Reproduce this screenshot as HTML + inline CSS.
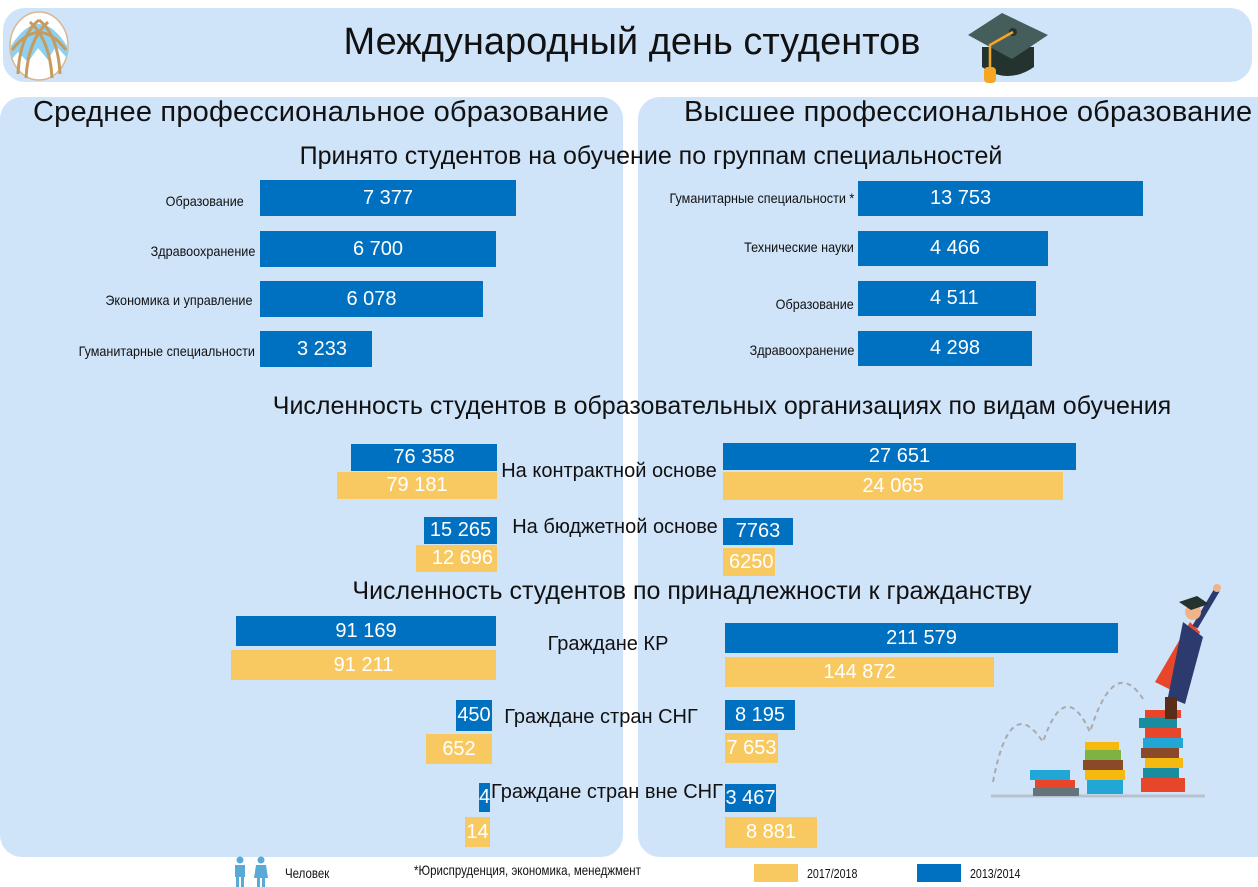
<!DOCTYPE html>
<html><head><meta charset="utf-8"><style>
*{margin:0;padding:0;box-sizing:border-box}
body{width:1258px;height:887px;background:#fff;position:relative;overflow:hidden;font-family:"Liberation Sans","DejaVu Sans",sans-serif;color:#111}
.p{position:absolute;background:#cfe3f9}
.b{position:absolute;background:#0070c0;color:#fff;font-size:20px;text-align:center;display:flex;align-items:center;justify-content:center}
.y{position:absolute;background:#f9c961;color:#fff;font-size:20px;display:flex;align-items:center;justify-content:center}
.t{position:absolute;white-space:nowrap}
.l{position:absolute;font-size:14px;white-space:nowrap;transform:scaleX(.9);transform-origin:right center;text-align:right}
.c{position:absolute;white-space:nowrap;transform:translateX(-50%)}
</style></head><body>
<div class="p" style="left:3px;top:8px;width:1249px;height:74px;border-radius:22px"></div>
<div class="p" style="left:0;top:97px;width:623px;height:760px;border-radius:22px"></div>
<div class="p" style="left:638px;top:97px;width:620px;height:760px;border-radius:22px 0 0 22px"></div>

<svg style="position:absolute;left:8px;top:10px" width="62" height="72" viewBox="0 0 62 72">
<ellipse cx="31" cy="36" rx="29" ry="34" fill="#fff" stroke="#d8b890" stroke-width="1.5"/>
<path d="M3 36 Q31 -8 59 36 L59 48 L48 36 L40 50 L30 38 L20 52 L10 42 L3 50Z" fill="#8fd0ef"/>
<path d="M10 64 Q12 25 31 10 M18 68 Q20 30 40 12 M52 64 Q50 25 31 10 M44 68 Q42 30 22 12 M4 40 Q31 5 58 40" stroke="#c59b5f" stroke-width="3" fill="none"/>
</svg>
<div class="c" style="left:632px;top:21px;font-size:38px">Международный день студентов</div>
<svg style="position:absolute;left:968px;top:7px" width="90" height="78" viewBox="0 0 90 78">
<path d="M14 40 L14 60 Q40 78 66 60 L66 40Z" fill="#25332f"/>
<path d="M0 28 L34 6 L80 28 L44 52Z" fill="#465e5b"/>
<circle cx="45" cy="25" r="4" fill="#25332f"/>
<path d="M45 25 L22 38 L22 66" stroke="#f5a623" stroke-width="2.5" fill="none"/>
<rect x="16" y="60" width="12" height="16" rx="4" fill="#f5a623"/>
</svg>

<div class="t" style="left:33px;top:96px;font-size:29px;letter-spacing:0.2px">Среднее профессиональное образование</div>
<div class="t" style="left:684px;top:96px;font-size:29px;letter-spacing:0.2px">Высшее профессиональное образование</div>
<div class="c" style="left:651px;top:142px;font-size:25px">Принято студентов на обучение по группам специальностей</div>

<div class="l" style="right:1014px;top:193px">Образование</div>
<div class="l" style="right:1003px;top:243px">Здравоохранение</div>
<div class="l" style="right:1006px;top:292px">Экономика и управление</div>
<div class="l" style="right:1003px;top:343px">Гуманитарные специальности</div>
<div class="b" style="left:260px;top:180px;width:256px;height:36px">7 377</div>
<div class="b" style="left:260px;top:231px;width:236px;height:36px">6 700</div>
<div class="b" style="left:260px;top:281px;width:223px;height:36px">6 078</div>
<div class="b" style="left:260px;top:331px;width:112px;height:36px;justify-content:flex-start;padding-left:37px">3 233</div>

<div class="l" style="right:404px;top:190px">Гуманитарные специальности *</div>
<div class="l" style="right:404px;top:239px">Технические науки</div>
<div class="l" style="right:404px;top:296px">Образование</div>
<div class="l" style="right:404px;top:342px">Здравоохранение</div>
<div class="b" style="left:858px;top:181px;width:285px;height:35px;justify-content:flex-start;padding-left:72px">13 753</div>
<div class="b" style="left:858px;top:231px;width:190px;height:35px;justify-content:flex-start;padding-left:72px">4 466</div>
<div class="b" style="left:858px;top:281px;width:178px;height:35px;justify-content:flex-start;padding-left:72px">4 511</div>
<div class="b" style="left:858px;top:331px;width:174px;height:35px;justify-content:flex-start;padding-left:72px">4 298</div>

<div class="c" style="left:722px;top:392px;font-size:25px">Численность студентов в образовательных организациях по видам обучения</div>
<div class="b" style="left:351px;top:444px;width:146px;height:27px">76 358</div>
<div class="y" style="left:337px;top:472px;width:160px;height:27px">79 181</div>
<div class="b" style="left:424px;top:517px;width:73px;height:27px">15 265</div>
<div class="y" style="left:416px;top:545px;width:81px;height:27px;justify-content:flex-end;padding-right:4px">12 696</div>
<div class="c" style="left:609px;top:460px;font-size:20px">На контрактной основе</div>
<div class="c" style="left:615px;top:516px;font-size:20px">На бюджетной основе</div>
<div class="b" style="left:723px;top:443px;width:353px;height:27px">27 651</div>
<div class="y" style="left:723px;top:472px;width:340px;height:28px">24 065</div>
<div class="b" style="left:723px;top:518px;width:70px;height:27px">7763</div>
<div class="y" style="left:723px;top:548px;width:52px;height:28px;justify-content:flex-start;padding-left:6px">6250</div>

<div class="c" style="left:692px;top:577px;font-size:25px">Численность студентов по принадлежности к гражданству</div>
<div class="b" style="left:236px;top:616px;width:260px;height:30px">91 169</div>
<div class="y" style="left:231px;top:650px;width:265px;height:30px">91 211</div>
<div class="b" style="left:456px;top:700px;width:36px;height:31px">450</div>
<div class="y" style="left:426px;top:734px;width:66px;height:30px">652</div>
<div class="b" style="left:479px;top:783px;width:11px;height:29px">4</div>
<div class="y" style="left:465px;top:817px;width:25px;height:30px">14</div>
<div class="c" style="left:608px;top:633px;font-size:20px">Граждане КР</div>
<div class="c" style="left:601px;top:706px;font-size:20px">Граждане стран СНГ</div>
<div class="c" style="left:607px;top:781px;font-size:20px">Граждане стран вне СНГ</div>
<div class="b" style="left:725px;top:623px;width:393px;height:30px">211 579</div>
<div class="y" style="left:725px;top:657px;width:269px;height:30px">144 872</div>
<div class="b" style="left:725px;top:700px;width:70px;height:30px">8 195</div>
<div class="y" style="left:725px;top:733px;width:53px;height:30px">7 653</div>
<div class="b" style="left:725px;top:784px;width:51px;height:28px">3 467</div>
<div class="y" style="left:725px;top:817px;width:92px;height:31px">8 881</div>

<svg style="position:absolute;left:985px;top:582px" width="260" height="222" viewBox="0 0 260 222">
<path d="M8 200 Q25 110 58 160 Q80 95 105 150 Q130 70 160 120" stroke="#aaa" stroke-width="2" stroke-dasharray="5 4" fill="none"/>
<line x1="6" y1="214" x2="220" y2="214" stroke="#b8c2cc" stroke-width="3"/>
<rect x="45" y="188" width="40" height="10" fill="#22a6d6"/><rect x="50" y="198" width="40" height="8" fill="#e8462b"/><rect x="48" y="206" width="46" height="8" fill="#65747a"/>
<rect x="100" y="160" width="34" height="8" fill="#f5b90f"/><rect x="100" y="168" width="36" height="10" fill="#7fb341"/><rect x="98" y="178" width="40" height="10" fill="#8a4a2a"/><rect x="100" y="188" width="40" height="10" fill="#f5b90f"/><rect x="102" y="198" width="36" height="14" fill="#22a6d6"/>
<rect x="160" y="128" width="36" height="8" fill="#e8462b"/><rect x="154" y="136" width="38" height="10" fill="#1a8ca0"/><rect x="160" y="146" width="36" height="10" fill="#e8462b"/><rect x="158" y="156" width="40" height="10" fill="#22a6d6"/><rect x="156" y="166" width="38" height="10" fill="#8a4a2a"/><rect x="160" y="176" width="38" height="10" fill="#f5b90f"/><rect x="158" y="186" width="36" height="10" fill="#1a8ca0"/><rect x="156" y="196" width="44" height="14" fill="#e8462b"/>
<path d="M205 40 L170 100 L190 110 L215 50Z" fill="#e8462b"/>
<path d="M198 40 L183 115 L200 122 L218 55Z" fill="#2d3a6e"/>
<path d="M210 45 L232 8" stroke="#2d3a6e" stroke-width="6"/>
<circle cx="232" cy="6" r="4" fill="#f0b48a"/>
<circle cx="208" cy="30" r="8" fill="#f0b48a"/>
<path d="M194 20 L212 14 L224 22 L206 28Z" fill="#25332f"/>
<rect x="180" y="115" width="12" height="22" fill="#5a2d1a"/>
</svg>

<svg style="position:absolute;left:232px;top:856px" width="40" height="31" viewBox="0 0 40 31">
<circle cx="8" cy="4" r="3.5" fill="#5aaad8"/><rect x="3" y="9" width="10" height="12" fill="#5aaad8"/><rect x="4" y="20" width="3" height="11" fill="#5aaad8"/><rect x="9" y="20" width="3" height="11" fill="#5aaad8"/>
<circle cx="29" cy="4" r="3.5" fill="#5aaad8"/><path d="M24 9 L34 9 L36 22 L22 22Z" fill="#5aaad8"/><rect x="25" y="20" width="3" height="11" fill="#5aaad8"/><rect x="30" y="20" width="3" height="11" fill="#5aaad8"/>
</svg>
<div class="t" style="left:285px;top:865px;font-size:14px;transform:scaleX(.82);transform-origin:left">Человек</div>
<div class="t" style="left:414px;top:862px;font-size:14px;transform:scaleX(.82);transform-origin:left">*Юриспруденция, экономика, менеджмент</div>
<div style="position:absolute;left:754px;top:864px;width:44px;height:18px;background:#f9c961"></div>
<div class="t" style="left:807px;top:866px;font-size:13px;transform:scaleX(.82);transform-origin:left">2017/2018</div>
<div style="position:absolute;left:917px;top:864px;width:44px;height:18px;background:#0070c0"></div>
<div class="t" style="left:970px;top:866px;font-size:13px;transform:scaleX(.82);transform-origin:left">2013/2014</div>
</body></html>
